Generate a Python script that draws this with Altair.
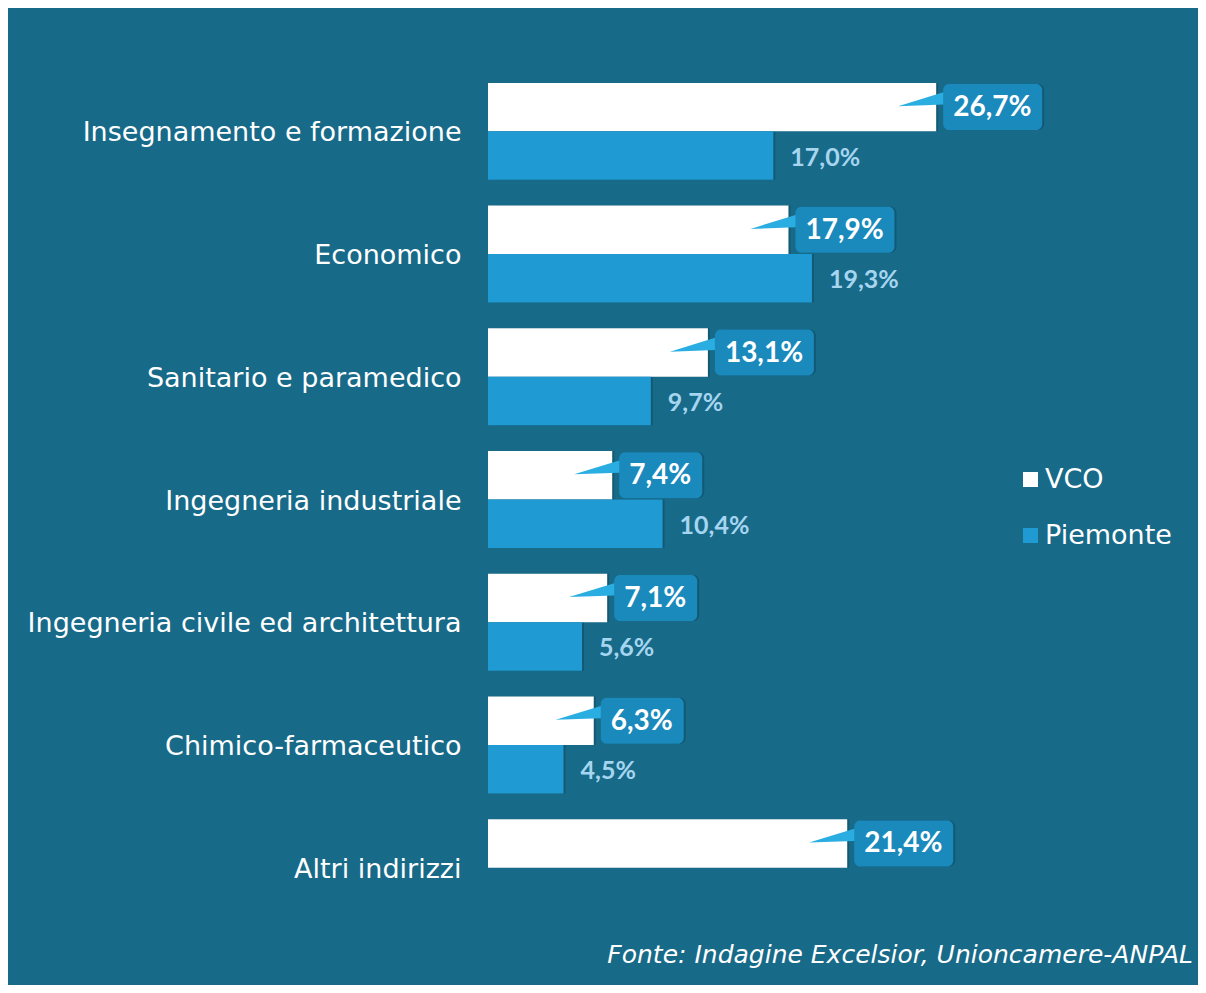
import altair as alt
import pandas as pd

categories = [
    "Insegnamento e formazione",
    "Economico",
    "Sanitario e paramedico",
    "Ingegneria industriale",
    "Ingegneria civile ed architettura",
    "Chimico-farmaceutico",
    "Altri indirizzi",
]
series = ["VCO", "Piemonte"]
vco = [26.7, 17.9, 13.1, 7.4, 7.1, 6.3, 21.4]
piemonte = [17.0, 19.3, 9.7, 10.4, 5.6, 4.5, None]
source = "Fonte: Indagine Excelsior, Unioncamere-ANPAL"

rows = []
for c, v, p in zip(categories, vco, piemonte):
    for s, val in (("VCO", v), ("Piemonte", p)):
        if val is None:
            continue
        rows.append({"category": c, "series": s, "value": val,
                     "label": f"{val:.1f}".replace(".", ",") + "%"})
df = pd.DataFrame(rows)

BG = "#186a89"
PLOT_W, PLOT_H = 705, 859
XMAX = 42
PX_PER_UNIT = PLOT_W / XMAX

x_enc = alt.X("value:Q", scale=alt.Scale(domain=[0, XMAX], nice=False, zero=True), axis=None)
y_enc = alt.Y("category:N", sort=categories,
              scale=alt.Scale(domain=categories, paddingInner=0.21, paddingOuter=0.105),
              axis=alt.Axis(title=None, domain=False, ticks=False, labelColor="white",
                            labelFont="DejaVu Sans", labelFontSize=27, labelPadding=27,
                            labelLimit=0, labelOffset=2))
yo_enc = alt.YOffset("series:N", sort=series,
                     scale=alt.Scale(domain=series, paddingInner=0, paddingOuter=0))

base = alt.Chart(df)
vco_base = base.transform_filter(alt.datum.series == "VCO")
box_calc = f"datum.value + (16*length(datum.label) + 19)/{PX_PER_UNIT}"

bar_shadow = base.mark_bar(color="#08384d", opacity=0.35, xOffset=2, yOffset=4).encode(
    x=x_enc, y=y_enc, yOffset=yo_enc)

bars = base.mark_bar().encode(
    x=x_enc, y=y_enc, yOffset=yo_enc,
    color=alt.Color("series:N", sort=series,
                    scale=alt.Scale(domain=series, range=["#ffffff", "#1f9ad2"]),
                    legend=alt.Legend(title=None, orient="none", legendX=529, legendY=396,
                                      symbolType="square", symbolSize=225, symbolStrokeWidth=0,
                                      labelColor="white", labelFont="DejaVu Sans",
                                      labelFontSize=27, labelOffset=1, rowPadding=28,
                                      padding=0)),
)

tail_path = "M -0.98 -0.04 L 1.3 -0.74 L 1.3 -0.12 Z"
tails = vco_base.mark_point(
    shape=tail_path, size=46 * 46, filled=True, color="#2aaee2", opacity=1,
    strokeWidth=0, xOffset=-15.5,
).encode(x=x_enc, y=y_enc, yOffset=yo_enc)

box_shadow = vco_base.transform_calculate(box_end=box_calc).mark_bar(
    color="#08384d", opacity=0.35, cornerRadius=6, height=46,
    xOffset=9, x2Offset=9, yOffset=4,
).encode(x=x_enc, x2="box_end:Q", y=y_enc, yOffset=yo_enc)

boxes = vco_base.transform_calculate(box_end=box_calc).mark_bar(
    color="#1a89bc", cornerRadius=6, height=46, xOffset=7, x2Offset=7,
).encode(x=x_enc, x2="box_end:Q", y=y_enc, yOffset=yo_enc)

vco_text = vco_base.mark_text(
    align="left", baseline="middle", dx=17, dy=1, color="white",
    font="Lato", fontWeight="bold", fontSize=28,
).encode(x=x_enc, y=y_enc, yOffset=yo_enc, text="label:N")

pie_text = base.transform_filter(alt.datum.series == "Piemonte").mark_text(
    align="left", baseline="middle", dx=17, dy=2, color="#a6d5ef",
    font="Lato", fontWeight="bold", fontSize=25,
).encode(x=x_enc, y=y_enc, yOffset=yo_enc, text="label:N")

chart = alt.layer(bar_shadow, bars, tails, box_shadow, boxes, vco_text, pie_text).properties(
    width=PLOT_W, height=PLOT_H,
    title=alt.TitleParams(source, orient="bottom", anchor="end", frame="group",
                          font="DejaVu Sans", fontStyle="italic", fontWeight="normal",
                          fontSize=25, color="white", offset=14, baseline="top"),
    autosize=alt.AutoSizeParams(type="none"),
    padding={"left": 480, "top": 62, "right": 5, "bottom": 56},
    background=BG,
).configure_view(stroke=None)

chart.save("out.html", embed_options={"renderer": "svg", "actions": False})
